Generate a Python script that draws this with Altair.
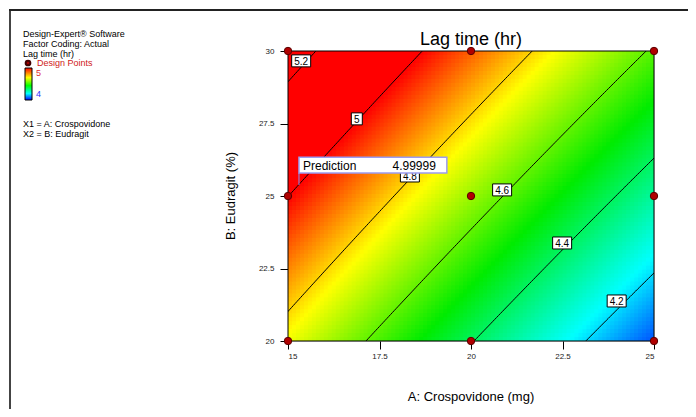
import altair as alt
import numpy as np
import pandas as pd

# ---------------- data ----------------
A_ticks = [15, 17.5, 20, 22.5, 25]
B_ticks = [20, 22.5, 25, 27.5, 30]
A_domain = [15, 25]
B_domain = [20, 30]

# response-surface coefficients fitted to the contour positions
coef_c = 4.658
coef_a = -0.0667
coef_aa = 0.00038
coef_b = 0.0505
center_A = 20
center_B = 25

design_A = [15, 15, 15, 20, 20, 20, 25, 25, 25]
design_B = [20, 25, 30, 20, 25, 30, 20, 25, 30]

contour_levels = [4.2, 4.4, 4.6, 4.8, 5.0, 5.2]
label_text = ["4.2", "4.4", "4.6", "4.8", "5", "5.2"]
label_A = [23.98, 22.49, 20.85, 18.33, 16.88, 15.36]
label_B = [21.38, 23.38, 25.21, 25.69, 27.66, 29.66]

color_stops = [4.08, 4.23, 4.5, 4.76, 5.0]
color_range = ["#0050ff", "#00ffff", "#00ec00", "#ffff00", "#ff0000"]

prediction_A = 15.30
prediction_B = 25.38
prediction_label = "Prediction"
prediction_value = "4.99999"
flag_A = [15.30, 19.34]
flag_B = [25.79, 26.34]

info_lines = ["Design-Expert\u00ae Software", "Factor Coding: Actual", "Lag time (hr)"]
factor_lines = ["X1 = A: Crospovidone", "X2 = B: Eudragit"]
title_text = "Lag time (hr)"
x_title = "A: Crospovidone (mg)"
y_title = "B: Eudragit (%)"

FONT = "Liberation Sans"
W, H = 366, 290
PAD_R = 34


def model(A, B):
    dA = np.asarray(A) - center_A
    return coef_c + coef_a * dA + coef_aa * dA ** 2 + coef_b * (np.asarray(B) - center_B)


# ---------------- heat map cells ----------------
nA, nB = 92, 73
ea = np.linspace(A_domain[0], A_domain[1], nA + 1)
eb = np.linspace(B_domain[0], B_domain[1], nB + 1)
sa = ea[1] - ea[0]
sb = eb[1] - eb[0]
AA, BB = np.meshgrid(ea[:-1], eb[:-1])
AA = AA.ravel()
BB = BB.ravel()
cells = pd.DataFrame({
    "A0": AA, "A1": np.minimum(AA + sa * 1.25, A_domain[1]),
    "B0": BB, "B1": np.minimum(BB + sb * 1.25, B_domain[1]),
    "z": model(AA + sa / 2, BB + sb / 2),
})

xs = alt.Scale(domain=A_domain, nice=False, zero=False)
ys = alt.Scale(domain=B_domain, nice=False, zero=False)

xaxis = alt.Axis(values=A_ticks, labelExpr="toString(datum.value)", title=None, grid=False,
                 domain=False, tickSize=8, tickColor="black", labelFontSize=8, labelFont=FONT,
                 labelColor="#222", labelPadding=3)
yaxis = alt.Axis(values=B_ticks, labelExpr="toString(datum.value)", title=None, grid=False,
                 domain=False, tickSize=8, tickColor="black", labelFontSize=8, labelFont=FONT,
                 labelColor="#222", labelPadding=6)

heat = alt.Chart(cells).mark_rect(strokeWidth=0).encode(
    x=alt.X("A0:Q", scale=xs, axis=xaxis),
    x2="A1:Q",
    y=alt.Y("B0:Q", scale=ys, axis=yaxis),
    y2="B1:Q",
    color=alt.Color("z:Q", scale=alt.Scale(domain=color_stops, range=color_range,
                                           clamp=True, interpolate="rgb"), legend=None),
)

# ---------------- contour lines ----------------
rows = []
samp = np.linspace(14.0, 26.0, 241)
for lv in contour_levels:
    dA = samp - center_A
    Bv = center_B + (lv - coef_c - coef_a * dA - coef_aa * dA ** 2) / coef_b
    for a_, b_ in zip(samp, Bv):
        rows.append({"A": a_, "B": b_, "level": lv})
cont = pd.DataFrame(rows)
lines = alt.Chart(cont).mark_line(color="black", strokeWidth=1, clip=True).encode(
    x=alt.X("A:Q", scale=xs), y=alt.Y("B:Q", scale=ys), detail="level:N", order="A:Q")

# ---------------- contour labels ----------------
def box_path(txt):
    hw = 0.55 if len(txt) == 1 else 0.95
    return f"M-{hw},-0.6L{hw},-0.6L{hw},0.6L-{hw},0.6Z"

labels = pd.DataFrame({"A": label_A, "B": label_B, "t": label_text})
labels["path"] = [box_path(t) for t in label_text]
lab_box = alt.Chart(labels).mark_point(filled=True, fill="white", stroke="black",
                                       strokeWidth=1, opacity=1).encode(
    x=alt.X("A:Q", scale=xs), y=alt.Y("B:Q", scale=ys),
    shape=alt.Shape("path:N", scale=None), size=alt.value(400))
lab_txt = alt.Chart(labels).mark_text(font=FONT, fontSize=10, color="black",
                                      baseline="middle", dy=1).encode(
    x=alt.X("A:Q", scale=xs), y=alt.Y("B:Q", scale=ys), text="t:N")

# ---------------- frame ----------------
one = pd.DataFrame({"k": [0]})
frame = alt.Chart(one).mark_rect(fill="transparent", stroke="black", strokeWidth=1).encode(
    x=alt.value(0), x2=alt.value(W), y=alt.value(0), y2=alt.value(H))

# ---------------- prediction flag ----------------
flag_df = pd.DataFrame({"A0": [flag_A[0]], "A1": [flag_A[1]], "B0": [flag_B[0]], "B1": [flag_B[1]],
                        "pa": [prediction_A], "pb": [prediction_B]})
flag_rule = alt.Chart(flag_df).mark_rule(color="#8c8cf0", strokeWidth=1).encode(
    x=alt.X("pa:Q", scale=xs), y=alt.Y("pb:Q", scale=ys), y2="B0:Q")
flag_box = alt.Chart(flag_df).mark_rect(fill="white", stroke="#9c9cf0", strokeWidth=1.5).encode(
    x=alt.X("A0:Q", scale=xs), x2="A1:Q", y=alt.Y("B0:Q", scale=ys), y2="B1:Q")
flag_t1 = alt.Chart(flag_df).mark_text(font=FONT, fontSize=12, align="left", baseline="middle",
                                       dx=4, dy=1, text=prediction_label).encode(
    x=alt.X("A0:Q", scale=xs), y=alt.Y("mid:Q", scale=ys)).transform_calculate(
    mid="(datum.B0 + datum.B1) / 2")
flag_t2 = alt.Chart(flag_df).mark_text(font=FONT, fontSize=12, align="right", baseline="middle",
                                       dx=-11, dy=1, text=prediction_value).encode(
    x=alt.X("A1:Q", scale=xs), y=alt.Y("mid:Q", scale=ys)).transform_calculate(
    mid="(datum.B0 + datum.B1) / 2")

# ---------------- design points ----------------
pts = pd.DataFrame({"A": design_A, "B": design_B})
points = alt.Chart(pts).mark_point(filled=True, fill="#b00000", stroke="#5a0000",
                                   strokeWidth=1, size=55, opacity=1).encode(
    x=alt.X("A:Q", scale=xs), y=alt.Y("B:Q", scale=ys))

# ---------------- texts outside the plot ----------------
def txt(s, x, y, size=9, color="black", align="left", angle=0, baseline="middle"):
    kw = dict(font=FONT, fontSize=size, color=color, align=align, baseline=baseline, text=s)
    if angle:
        kw["angle"] = angle
    return alt.Chart(one).mark_text(**kw).encode(x=alt.value(x), y=alt.value(y))

extras = []
extras.append(txt(title_text, W / 2, -6, size=18, align="center", baseline="alphabetic"))
extras.append(txt(x_title, W / 2, 346, size=13, align="center"))
extras.append(txt(y_title, -57, H / 2, size=13, align="center", angle=270))
for i, s in enumerate(info_lines):
    extras.append(txt(s, -265, -17 + 10 * i))
extras.append(txt("Design Points", -251, 12, color="#d02020"))
extras.append(txt("5", -252, 22, color="#e03030"))
extras.append(txt("4", -252, 43, color="#3030ff"))
for i, s in enumerate(factor_lines):
    extras.append(txt(s, -265, 73 + 10 * i))

legend_dot = alt.Chart(one).mark_point(filled=True, fill="#a00000", stroke="#400000",
                                       size=22, opacity=1).encode(
    x=alt.value(-260), y=alt.value(12))
grad = alt.Gradient(gradient="linear", x1=0, x2=0, y1=0, y2=1, stops=[
    alt.GradientStop(color="#ff0000", offset=0),
    alt.GradientStop(color="#ffff00", offset=0.3),
    alt.GradientStop(color="#00ff00", offset=0.55),
    alt.GradientStop(color="#00ffff", offset=0.8),
    alt.GradientStop(color="#0000ff", offset=1),
])
colorbar = alt.Chart(one).mark_rect(fill=grad, stroke="black", strokeWidth=1).encode(
    x=alt.value(-263), x2=alt.value(-256), y=alt.value(17), y2=alt.value(49))

border_v = alt.Chart(one).mark_rule(color="#444", strokeWidth=2).encode(
    x=alt.value(-278), y=alt.value(-41), y2=alt.value(360))
border_h = alt.Chart(one).mark_rule(color="#222", strokeWidth=2).encode(
    x=alt.value(-279), x2=alt.value(W + PAD_R), y=alt.value(-41))

chart = alt.layer(
    heat, lines, frame, lab_box, lab_txt, flag_rule, flag_box, flag_t1, flag_t2, points,
    legend_dot, colorbar, border_v, border_h, *extras
).properties(
    width=W, height=H,
    padding={"left": 280, "top": 43, "right": PAD_R, "bottom": 68},
    autosize=alt.AutoSizeParams(type="none"),
).configure_view(stroke=None).configure(background="white")

chart.save("out.html", embed_options={"renderer": "svg", "actions": False})
